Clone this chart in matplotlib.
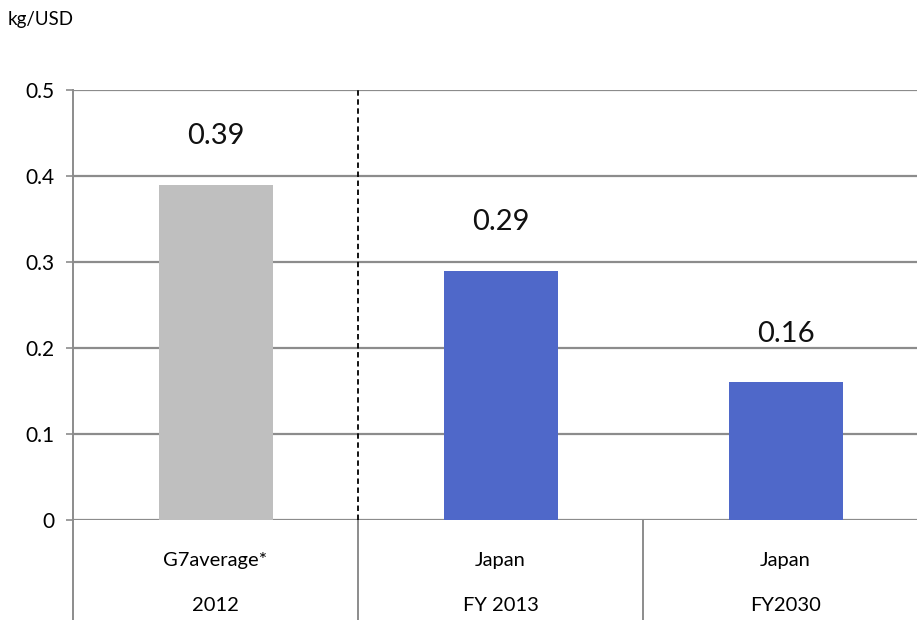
import matplotlib.pyplot as plt
import matplotlib.transforms as mtransforms

plt.rcParams["font.family"] = ["Lato", "DejaVu Sans"]

# CO2 emissions per unit of GDP
groups = ["G7average*", "Japan", "Japan"]
years = ["2012", "FY 2013", "FY2030"]
values = [0.39, 0.29, 0.16]
bar_colors = ["#BFBFBF", "#4F68C9", "#4F68C9"]
y_ticks = [0, 0.1, 0.2, 0.3, 0.4, 0.5]
y_tick_labels = ["0", "0.1", "0.2", "0.3", "0.4", "0.5"]

GRID = "#8C8C8C"

fig = plt.figure(figsize=(9.17, 6.2), dpi=100)
ax = fig.add_axes([73 / 917, 100 / 620, 855 / 917, 430 / 620])

x = [i + 0.5 for i in range(len(values))]
ax.bar(x, values, width=0.4, color=bar_colors, zorder=3)

for xi, v in zip(x, values):
    ax.annotate(f"{v:.2f}", (xi, v), xytext=(0, 35), textcoords="offset points",
                ha="center", va="center", fontsize=21, color="#111111")

ax.set_xlim(0, 3)
ax.set_ylim(0, 0.5)
ax.set_yticks(y_ticks)
ax.set_yticklabels(y_tick_labels, fontsize=15)
ax.set_xticks([])
ax.yaxis.grid(True, color=GRID, linewidth=1.6, zorder=0)
ax.tick_params(axis="y", length=5, width=1.2, color=GRID, pad=8)

for side in ["top", "right", "bottom"]:
    ax.spines[side].set_visible(False)
ax.spines["left"].set_color(GRID)
ax.spines["left"].set_linewidth(1.4)

# dashed divider between the G7 reference and Japan
ax.axvline(1.0, color="black", linestyle=(0, (3, 2)), linewidth=1.3, zorder=4)

# category table under the axis
trans = mtransforms.blended_transform_factory(ax.transData, ax.transAxes)
for xs in [0, 1, 2, 3]:
    ax.plot([xs, xs], [0, -0.3], color=GRID, linewidth=1.4, transform=trans, clip_on=False)
for xi, g, yr in zip(x, groups, years):
    ax.text(xi, -0.095, g, transform=trans, ha="center", va="center", fontsize=14.5)
    ax.text(xi, -0.198, yr, transform=trans, ha="center", va="center", fontsize=14.5)

fig.text(8 / 917, 1 - 20 / 620, "kg/USD", ha="left", va="center", fontsize=13.5)

fig.savefig("out.png", dpi=100)
